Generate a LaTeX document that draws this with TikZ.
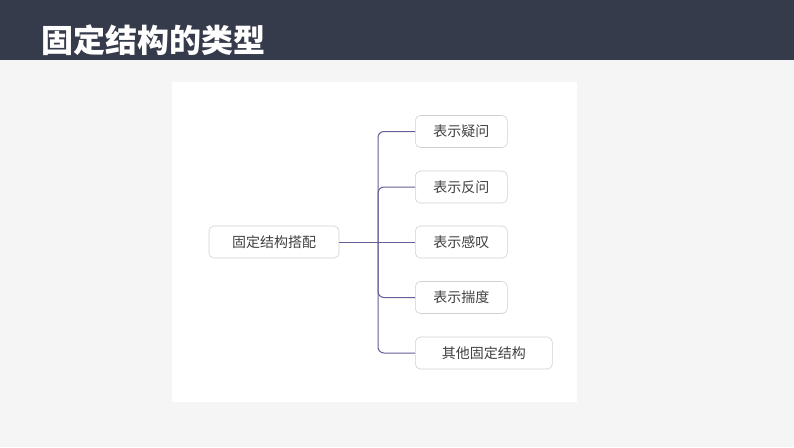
\documentclass[tikz,border=0pt]{standalone}
\usepackage{fontspec}
\newfontfamily\cjk{Noto Sans CJK SC}
\definecolor{lnk}{RGB}{100,96,150}
\begin{document}
\begin{tikzpicture}[x=1pt,y=-1pt,
  box/.style={draw=black!18,line width=0.6pt,fill=white,rounded corners=5pt,minimum height=32pt,inner xsep=9pt,font=\cjk\fontsize{14}{16}\selectfont,text=black!75},
  conn/.style={draw=lnk,line width=1pt,rounded corners=6pt}]
\useasboundingbox (0,0) rectangle (794,447);
\fill[black!4] (0,0) rectangle (794,447);
\fill[fill={rgb,255:red,54;green,59;blue,76}] (0,0) rectangle (794,60);
\node[anchor=west,text=white,inner sep=0pt,font=\cjk\bfseries\fontsize{32}{34}\selectfont] (title) at (41,40) {固定结构的类型};
\fill[white] (172,82) rectangle (577,402);
\node[box,minimum width=130pt] (root) at (274,242) {固定结构搭配};
\node[box,minimum width=92pt,anchor=west] (c1) at (415,131.5) {表示疑问};
\node[box,minimum width=92pt,anchor=west] (c2) at (415,187) {表示反问};
\node[box,minimum width=92pt,anchor=west] (c3) at (415,242) {表示感叹};
\node[box,minimum width=92pt,anchor=west] (c4) at (415,297.5) {表示揣度};
\node[box,minimum width=137pt,anchor=west] (c5) at (415,353) {其他固定结构};
\coordinate (j) at (378,242);
\draw[conn] (root.east) -- (c3.west);
\foreach \c in {c1,c2,c4,c5} \draw[conn] (j) |- (\c.west);
\end{tikzpicture}
\end{document}
